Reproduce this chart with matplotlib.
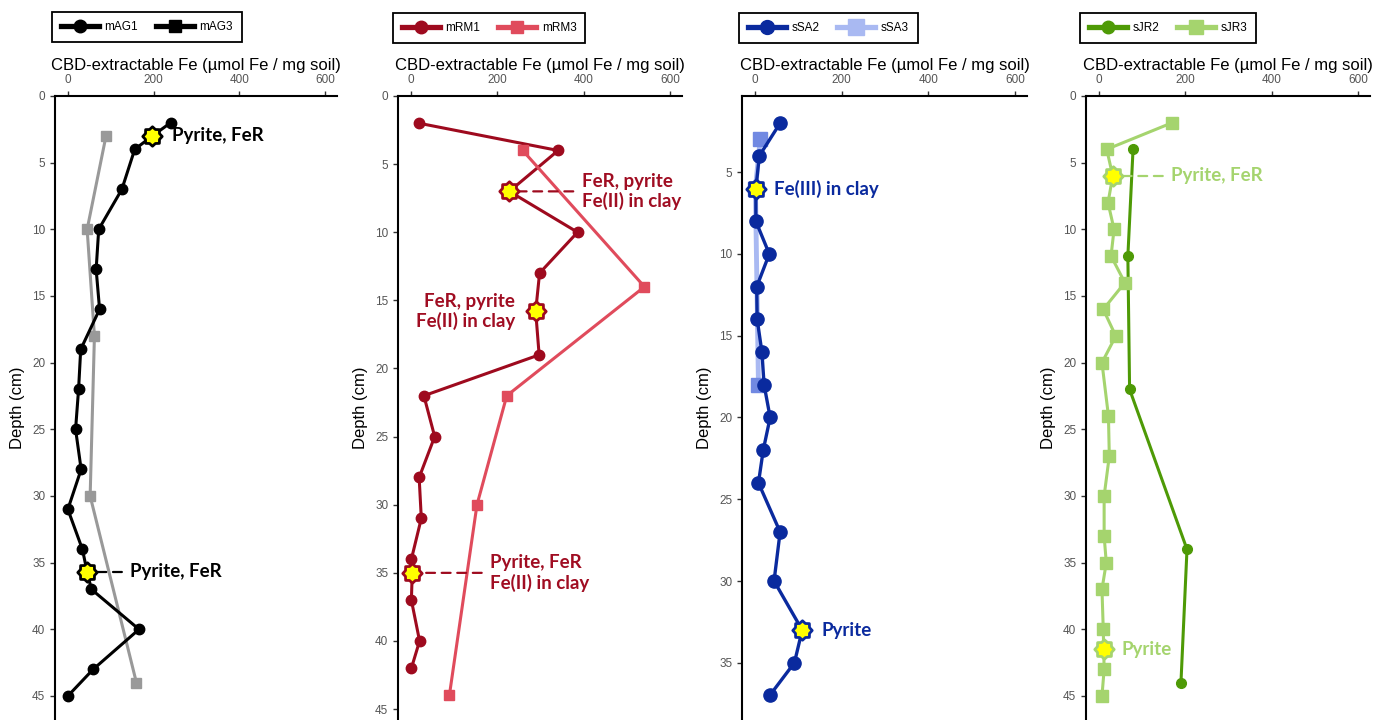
import matplotlib.pyplot as plt
from matplotlib.path import Path
from matplotlib.lines import Line2D

plt.rcParams['font.family'] = ['Liberation Sans', 'DejaVu Sans']

# depth (cm) and CBD-extractable Fe
mag1_depth = [2, 3, 4, 7, 10, 13, 16, 19, 22, 25, 28, 31, 34, 35.7, 37, 40, 43, 45]
mag1_fe = [240, 197, 156, 126, 72, 66, 74, 30, 25, 18, 31, 0, 34, 45, 55, 166, 59, 0]
mag3_depth = [3, 10, 18, 30, 44]
mag3_fe = [89, 45, 62, 52, 160]

mrm1_depth = [2, 4, 7, 10, 13, 15.8, 19, 22, 25, 28, 31, 34, 35, 37, 40, 42]
mrm1_fe = [19, 341, 228, 386, 298, 289, 297, 30, 55, 19, 24, 1, 3, 1, 20, 1]
mrm3_depth = [4, 14, 22, 30, 44]
mrm3_fe = [259, 541, 222, 153, 89]

ssa2_depth = [2, 4, 6, 8, 10, 12, 14, 16, 18, 20, 22, 24, 27, 30, 33, 35, 37]
ssa2_fe = [58, 10, 2, 2, 33, 4, 5, 16, 21, 35, 19, 8, 58, 44, 109, 91, 34]
ssa3_depth = [3, 6, 18]
ssa3_fe = [12, 1, 8]

sjr2_depth = [4, 12, 22, 34, 44]
sjr2_fe = [79, 67, 71, 204, 190]
sjr3_depth = [2, 4, 6, 8, 10, 12, 14, 16, 18, 20, 24, 27, 30, 33, 35, 37, 40, 41.5, 43, 45]
sjr3_fe = [170, 18, 32, 21, 35, 28, 60, 10, 39, 7, 22, 24, 12, 12, 17, 7, 10, 11, 12, 7]

# starred points: (index in series, label)
mag1_notes = [(1, "Pyrite, FeR"), (13, "Pyrite, FeR")]
mrm1_notes = [(2, "FeR, pyrite\nFe(II) in clay"), (5, "FeR, pyrite\nFe(II) in clay"),
              (12, "Pyrite, FeR\nFe(II) in clay")]
ssa2_notes = [(2, "Fe(III) in clay"), (14, "Pyrite")]
sjr3_notes = [(2, "Pyrite, FeR"), (17, "Pyrite")]

xticks = [0, 200, 400, 600]
xlabel = "CBD-extractable Fe (µmol Fe / mg soil)"

STAR = Path.unit_regular_star(8, innerCircle=0.78)

W, H = 1375, 720
fig = plt.figure(figsize=(W / 100, H / 100), dpi=100)


def make_axes(left, right, top, ylim, yticks):
    ax = fig.add_axes([left / W, 0, (right - left) / W, (H - top) / H])
    ax.set_xlim(-30, 628)
    ax.set_ylim(*ylim)
    ax.xaxis.tick_top()
    ax.xaxis.set_label_position('top')
    ax.set_xticks(xticks)
    ax.set_yticks(yticks)
    ax.set_xlabel(xlabel, fontsize=12, labelpad=3)
    ax.set_ylabel("Depth (cm)", fontsize=12, labelpad=5)
    for s in ['bottom', 'right']:
        ax.spines[s].set_visible(False)
    for s in ['top', 'left']:
        ax.spines[s].set_linewidth(1.5)
    ax.tick_params(labelsize=8.5, labelcolor='#555555', color='#333333',
                   length=3.5, width=1)
    return ax


def add_series(ax, fe, depth, color, marker, ms, lw, mcolor=None, z=2):
    ax.plot(fe, depth, color=color, lw=lw, marker=marker, ms=ms,
            mfc=mcolor or color, mec=mcolor or color, zorder=z, clip_on=False)


def add_notes(ax, fe, depth, notes, color, tcolor, specs):
    for (i, txt), (dx, dashed, ha) in zip(notes, specs):
        x, y = fe[i], depth[i]
        ax.plot([x], [y], marker=STAR, ms=14, mfc='#ffff00', mec=color,
                mew=2, ls='none', zorder=4, clip_on=False)
        arrow = None
        if dashed:
            arrow = dict(arrowstyle='-', ls=(0, (4, 3)), color=color, lw=1.6,
                         shrinkA=4, shrinkB=7)
        ax.annotate(txt, xy=(x, y), xytext=(dx, 0), textcoords='offset points',
                    ha=ha, va='center', fontsize=13.5, fontweight='bold',
                    family=['Lato', 'DejaVu Sans'], color=tcolor,
                    linespacing=1.15, arrowprops=arrow, zorder=5)


def add_legend(ax, x, y, entries):
    handles = [Line2D([], [], color=c, lw=3.8, marker=m, ms=ms,
                      mfc=mc or c, mec=mc or c)
               for _, c, m, ms, mc in entries]
    labels = [e[0] for e in entries]
    leg = ax.legend(handles, labels, loc='upper left',
                    bbox_to_anchor=(x / W, 1 - y / H),
                    bbox_transform=fig.transFigure, borderaxespad=0,
                    ncol=2, fontsize=8.5, frameon=True, fancybox=False,
                    edgecolor='black', framealpha=1, handlelength=3.2,
                    columnspacing=1.5, borderpad=0.75, handletextpad=0.5)
    leg.get_frame().set_linewidth(1.3)


yt = list(range(0, 50, 5))

# panel 1 - mAG
ax1 = make_axes(55, 337, 96, (46.8, 0), yt)
add_series(ax1, mag3_fe, mag3_depth, '#999999', 's', 7.5, 2.2)
add_series(ax1, mag1_fe, mag1_depth, 'black', 'o', 7.5, 2.2)
add_notes(ax1, mag1_fe, mag1_depth, mag1_notes, 'black', 'black',
          [(14, False, 'left'), (31, True, 'left')])
add_legend(ax1, 52, 12, [('mAG1', 'black', 'o', 9, None),
                         ('mAG3', 'black', 's', 9, None)])

# panel 2 - mRM
ax2 = make_axes(398, 682, 96, (45.8, 0), yt)
add_series(ax2, mrm1_fe, mrm1_depth, '#9e0a1e', 'o', 7.5, 2.2)
add_series(ax2, mrm3_fe, mrm3_depth, '#e04b5c', 's', 7.5, 2.2)
add_notes(ax2, mrm1_fe, mrm1_depth, mrm1_notes, '#9e0a1e', '#a00d22',
          [(52, True, 'left'), (-15, False, 'right'), (56, True, 'left')])
add_legend(ax2, 393, 13, [('mRM1', '#9e0a1e', 'o', 9, None),
                          ('mRM3', '#e04b5c', 's', 9, None)])

# panel 3 - sSA
ax3 = make_axes(742, 1027, 96, (38.5, 0.34), list(range(5, 40, 5)))
add_series(ax3, ssa3_fe, ssa3_depth, '#a9b9f2', 's', 10, 3.5,
           mcolor='#7189e2', z=1)
add_series(ax3, ssa2_fe, ssa2_depth, '#0a2a9e', 'o', 9.5, 2.4)
add_notes(ax3, ssa2_fe, ssa2_depth, ssa2_notes, '#0a2a9e', '#0a2a9e',
          [(13, False, 'left'), (14, False, 'left')])
add_legend(ax3, 739, 13, [('sSA2', '#0a2a9e', 'o', 10, None),
                          ('sSA3', '#a9b9f2', 's', 11, None)])

# panel 4 - sJR
ax4 = make_axes(1086, 1370, 96, (46.8, 0), yt)
add_series(ax4, sjr2_fe, sjr2_depth, '#4e9a06', 'o', 7, 2.2)
add_series(ax4, sjr3_fe, sjr3_depth, '#a5d46e', 's', 8, 2.2)
add_notes(ax4, sjr3_fe, sjr3_depth, sjr3_notes, '#a5d46e', '#a5d46e',
          [(42, True, 'left'), (13, False, 'left')])
add_legend(ax4, 1080, 13, [('sJR2', '#4e9a06', 'o', 9, None),
                           ('sJR3', '#a5d46e', 's', 10, None)])

fig.savefig('out.png', dpi=100)
